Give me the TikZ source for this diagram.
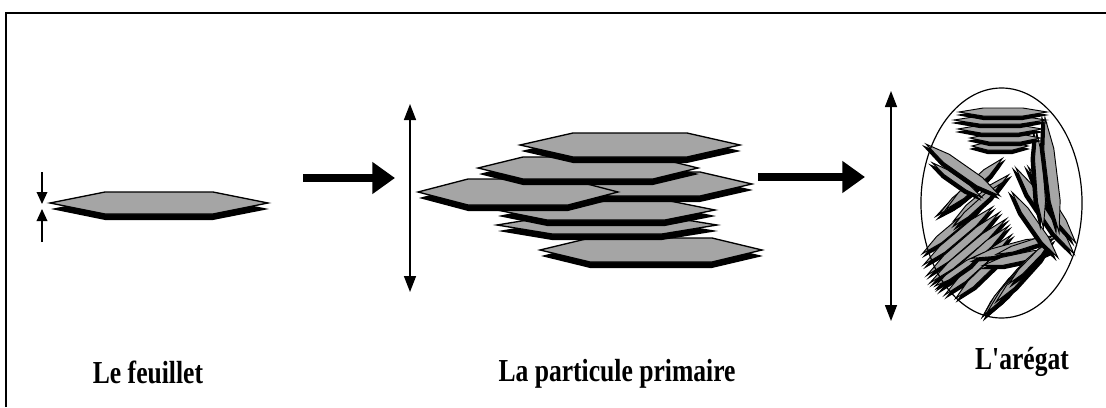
\documentclass[tikz,border=0pt]{standalone}
\usepackage{fontspec}
\setmainfont{Liberation Serif}
\newfontfamily\lblfont{Liberation Serif}
\usetikzlibrary{arrows.meta}
\definecolor{platefill}{RGB}{165,165,165}
% flat hexagonal sheet: cx cy halfwidth halfheight inset shadow
\newcommand{\plate}[6]{\begin{scope}[shift={(#1,#2)}]
 \fill[black] ({-#3+1},#6) -- ({-#3+#5},{-#4+#6}) -- ({#3-#5},{-#4+#6}) -- ({#3+1},#6) -- ({#3-#5},{#4+#6}) -- ({-#3+#5},{#4+#6}) -- cycle;
 \filldraw[fill=platefill,draw=black,line width=1pt] (-#3,0) -- ({-#3+#5},-#4) -- ({#3-#5},-#4) -- (#3,0) -- ({#3-#5},#4) -- ({-#3+#5},#4) -- cycle;
\end{scope}}
% thin sheet seen edge-on: cx cy rotation halflength halfthickness
\newcommand{\lamel}[5]{\begin{scope}[shift={(#1,#2)},rotate=#3]
 \fill[black] ({-#4-3},3) -- ({-0.45*#4},{-#5+2}) -- ({0.45*#4},{-#5+2}) -- ({#4+2},3) -- ({0.45*#4},{#5+4}) -- ({-0.45*#4},{#5+4}) -- cycle;
 \filldraw[fill=platefill,draw=black,line width=0.7pt] (-#4,0) -- ({-0.45*#4},-#5) -- ({0.45*#4},-#5) -- (#4,0) -- ({0.45*#4},#5) -- ({-0.45*#4},#5) -- cycle;
\end{scope}}
\tikzset{
 bigarrow/.style={line width=6pt,-{Triangle[length=17pt,width=23pt]}},
 dimarrow/.style={line width=1.1pt,{Triangle[length=12pt,width=9pt]}-{Triangle[length=12pt,width=9pt]}},
 smallarrow/.style={line width=1pt,-{Triangle[length=9pt,width=8pt]}},
 lbl/.style={font=\lblfont\fontsize{24}{28}\selectfont\bfseries,inner sep=0pt,anchor=base}
}
\begin{document}
\begin{tikzpicture}[x=0.75pt,y=-0.75pt]
\useasboundingbox (0,0) rectangle (1106,407);
\fill[white] (0,0) rectangle (1106,407);
% frame
\draw[line width=1.5pt] (6,407) -- (6,12.5) -- (1106,12.5);

% ---- le feuillet
\plate{159}{203}{109}{11}{55}{6}
\coordinate (s1) at (42,172);
\coordinate (s2) at (42,204);
\coordinate (s3) at (42,242);
\coordinate (s4) at (42,209);
\draw[smallarrow] (s1) -- (s2);
\draw[smallarrow] (s3) -- (s4);

% ---- arrow 1
\coordinate (a1s) at (303,178);
\coordinate (a1e) at (395,178);
\draw[bigarrow] (a1s) -- (a1e);

% ---- particule primaire
\coordinate (d1t) at (410,104);
\coordinate (d1b) at (410,292);
\draw[dimarrow] (d1t) -- (d1b);
\plate{651}{250}{111}{12}{50}{6}
\plate{607}{225}{110}{9}{55}{6}
\plate{606}{210}{109}{10}{50}{6}
\plate{645}{184}{107}{12}{52}{6}
\plate{518}{192}{100}{13}{50}{6}
\plate{588}{168}{110}{11}{45}{6}
\plate{630}{145}{110}{12}{53}{6}

% ---- arrow 2
\coordinate (a2s) at (758,177);
\coordinate (a2e) at (865,177);
\draw[bigarrow] (a2s) -- (a2e);

% ---- agregat
\coordinate (d2t) at (891,91);
\coordinate (d2b) at (891,321);
\draw[dimarrow] (d2t) -- (d2b);
% lower-left bundle
\lamel{953}{228}{40}{40}{4}
\lamel{958}{236}{40}{45}{4}
\lamel{963}{244}{41}{48}{4}
\lamel{968}{251}{40}{50}{4}
\lamel{973}{258}{42}{48}{4}
\lamel{978}{265}{42}{45}{4}
\lamel{983}{272}{44}{38}{4}
\lamel{958}{270}{35}{28}{3}
% middle-left bundle
\lamel{962}{196}{38}{33}{3}
\lamel{968}{190}{40}{38}{4}
\lamel{974}{184}{42}{38}{4}
\lamel{981}{198}{40}{36}{4}
\lamel{977}{205}{42}{32}{3}
% bottom bundle
\lamel{1002}{292}{52}{32}{3}
\lamel{1010}{248}{15}{40}{4}
\lamel{1025}{245}{18}{30}{3}
\lamel{1018}{258}{12}{36}{4}
\lamel{1009}{285}{50}{40}{4}
\lamel{1016}{278}{50}{45}{4}
\lamel{1024}{271}{48}{42}{4}
\lamel{1030}{262}{46}{30}{3}
% right diagonal and vertical
\lamel{1035}{225}{-55}{40}{4}
\lamel{1045}{211}{-56}{52}{5}
\lamel{1052}{205}{-58}{45}{4}
\lamel{1040}{180}{-86}{48}{4}
\lamel{1052}{175}{-83}{58}{5}
% top stack
\lamel{1000}{146}{0}{28}{4}
\lamel{1005}{138}{0}{35}{4}
\lamel{1000}{129}{0}{42}{4}
\lamel{1000}{120}{0}{46}{4}
\lamel{1003}{112}{0}{44}{4}
% upper-left diagonal
\lamel{957}{180}{-35}{30}{3}
\lamel{963}{170}{-35}{45}{5}
\coordinate (agg) at (1001.5,203);
\draw[line width=0.9pt] (agg) ellipse [x radius=60.4pt, y radius=86.25pt];

% ---- labels
\node[lbl] (l1) at (148,383) {\scalebox{0.8}[1]{Le feuillet}};
\node[lbl] (l2) at (617,381) {\scalebox{0.8}[1]{La particule primaire}};
\node[lbl] (l3) at (1022,369) {\scalebox{0.8}[1]{L'arégat}};
\end{tikzpicture}
\end{document}
